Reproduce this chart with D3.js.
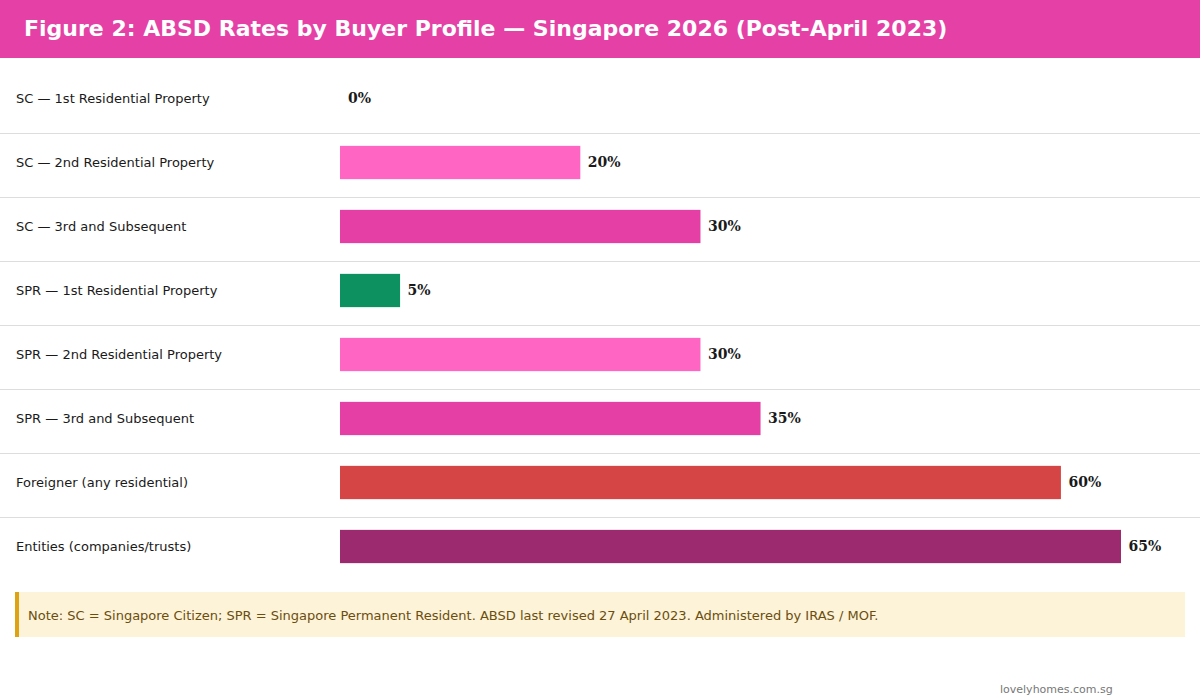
<!DOCTYPE html>
<html>
<head>
<meta charset="utf-8">
<script src="https://cdn.jsdelivr.net/npm/d3@7"></script>
<style>
  body { margin: 0; background: #fff; }
  svg { display: block; }
</style>
</head>
<body>
<div id="chart"></div>
<script>
const categories = [
  "SC — 1st Residential Property",
  "SC — 2nd Residential Property",
  "SC — 3rd and Subsequent",
  "SPR — 1st Residential Property",
  "SPR — 2nd Residential Property",
  "SPR — 3rd and Subsequent",
  "Foreigner (any residential)",
  "Entities (companies/trusts)"
];
const rates = [0, 20, 30, 5, 30, 35, 60, 65];
const barColors = ["#FF66C4", "#FF66C4", "#E53FA5", "#0E9160", "#FF66C4", "#E53FA5", "#D64545", "#9B2A6E"];

const width = 1200, height = 700;

const svg = d3.select("#chart").append("svg")
  .attr("width", width)
  .attr("height", height);

// header band
svg.append("rect")
  .attr("width", width).attr("height", 58)
  .attr("fill", "#E540A5");
svg.append("text")
  .attr("x", 24).attr("y", 36)
  .attr("fill", "#fff")
  .style("font-family", "DejaVu Sans")
  .style("font-weight", "bold")
  .style("font-size", "22px")
  .text("Figure 2: ABSD Rates by Buyer Profile — Singapore 2026 (Post-April 2023)");

// bars sit a little above the middle of each row
const y = d3.scaleBand()
  .domain(categories)
  .range([66.5, 578.5])
  .paddingInner(0.48)
  .paddingOuter(0.24);

const x = d3.scaleLinear()
  .domain([0, d3.max(rates)])
  .range([340, 1121]);

const step = y.step();
svg.append("g")
  .selectAll("line")
  .data(categories.slice(1))
  .join("line")
  .attr("x1", 0).attr("x2", width)
  .attr("y1", d => Math.round(y(d) - step * 0.24 + 2.5) + 0.5)
  .attr("y2", d => Math.round(y(d) - step * 0.24 + 2.5) + 0.5)
  .attr("stroke", "#dddddd");

const rows = svg.append("g")
  .selectAll("g")
  .data(categories)
  .join("g");

rows.append("text")
  .attr("x", 16)
  .attr("y", d => y(d) + y.bandwidth() / 2)
  .attr("dy", "0.35em")
  .attr("fill", "#1a1a1a")
  .style("font-family", "DejaVu Sans")
  .style("font-size", "13px")
  .text(d => d);

rows.append("rect")
  .attr("x", x(0))
  .attr("y", d => y(d))
  .attr("height", y.bandwidth())
  .attr("width", (d, i) => x(rates[i]) - x(0))
  .attr("fill", (d, i) => barColors[i]);

rows.append("text")
  .attr("x", (d, i) => x(rates[i]) + (rates[i] === 0 ? 8 : 7.5))
  .attr("y", d => y(d) + y.bandwidth() / 2)
  .attr("dy", "0.35em")
  .attr("fill", "#1a1a1a")
  .style("font-family", "DejaVu Serif")
  .style("font-weight", "bold")
  .style("font-size", "14px")
  .text((d, i) => rates[i] + "%");

// note box
svg.append("rect")
  .attr("x", 15).attr("y", 592)
  .attr("width", 1170).attr("height", 45)
  .attr("fill", "#FDF3D9");
svg.append("rect")
  .attr("x", 15).attr("y", 592)
  .attr("width", 4).attr("height", 45)
  .attr("fill", "#DDA312");
svg.append("text")
  .attr("x", 28).attr("y", 615)
  .attr("dy", "0.35em")
  .attr("fill", "#6B4E0E")
  .style("font-family", "DejaVu Sans")
  .style("font-size", "13px")
  .text("Note: SC = Singapore Citizen; SPR = Singapore Permanent Resident. ABSD last revised 27 April 2023. Administered by IRAS / MOF.");

svg.append("text")
  .attr("x", 1000).attr("y", 689)
  .attr("dy", "0.35em")
  .attr("fill", "#777")
  .style("font-family", "DejaVu Sans")
  .style("font-size", "11px")
  .text("lovelyhomes.com.sg");
</script>
</body>
</html>
